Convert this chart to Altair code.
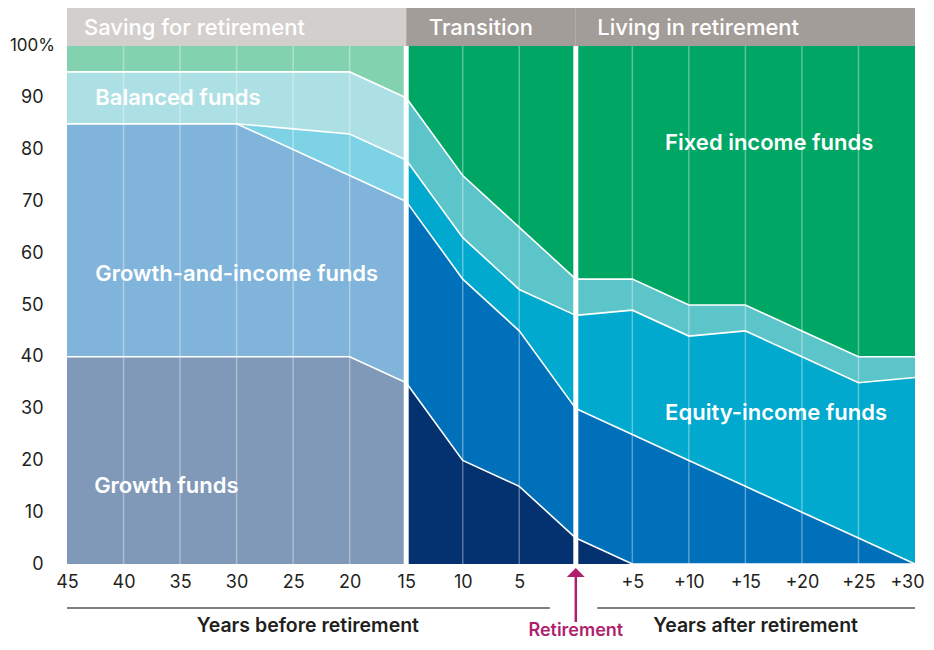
import altair as alt
import pandas as pd

# ---------------- data (cumulative top of each layer, in %) ----------------
layer_names = ["Growth", "Growth-and-income", "Equity-income", "Balanced", "Fixed income"]

# Saving for retirement (years before retirement shown as negative x)
saving_x = [-45, -40, -35, -30, -25, -20, -15]
saving_growth = [40, 40, 40, 40, 40, 40, 35]
saving_growth_income = [85, 85, 85, 85, 80, 75, 70]
saving_equity_income = [85, 85, 85, 85, 84, 83, 78]
saving_balanced = [95, 95, 95, 95, 95, 95, 90]
saving_fixed = [100, 100, 100, 100, 100, 100, 100]

# Transition
transition_x = [-15, -10, -5, 0]
transition_growth = [35, 20, 15, 5]
transition_growth_income = [70, 55, 45, 30]
transition_equity_income = [78, 63, 53, 48]
transition_balanced = [90, 75, 65, 55]
transition_fixed = [100, 100, 100, 100]

# Living in retirement
living_x = [0, 5, 10, 15, 20, 25, 30]
living_growth = [5, 0, 0, 0, 0, 0, 0]
living_growth_income = [30, 25, 20, 15, 10, 5, 0]
living_equity_income = [48, 49, 44, 45, 40, 35, 36]
living_balanced = [55, 55, 50, 50, 45, 40, 40]
living_fixed = [100, 100, 100, 100, 100, 100, 100]

saving_colors = ["#8199b8", "#80b4da", "#7dd3e5", "#ade0e5", "#82d2b0"]
later_colors = ["#04316f", "#0070ba", "#00a9cd", "#5cc5c9", "#00a664"]

x_tick_values = [-45, -40, -35, -30, -25, -20, -15, -10, -5, 5, 10, 15, 20, 25, 30]
y_tick_values = [0, 10, 20, 30, 40, 50, 60, 70, 80, 90]
grid_years = [-40, -35, -30, -25, -20, -10, -5, 5, 10, 15, 20, 25]
separator_years = [-15, 0]

header_names = ["Saving for retirement", "Transition", "Living in retirement"]
header_start = [-45, -15, 0]
header_end = [-15, 0, 30]
header_colors = ["#d3cfcc", "#a39d99", "#a39d99"]
header_text_x = [-43.5, -13.0, 1.9]

area_label_text = ["Balanced funds", "Growth-and-income funds", "Growth funds",
                   "Fixed income funds", "Equity-income funds"]
area_label_x = [-42.5, -42.5, -42.6, 7.9, 7.9]
area_label_y = [90.0, 56.0, 15.1, 81.3, 29.2]

FONT = "Inter"
TEXT_COLOR = "#231f20"
MAGENTA = "#b01f6d"
W, H = 848, 518

# ---------------- build tables ----------------
sections = [
    ("saving", saving_x, [saving_growth, saving_growth_income, saving_equity_income, saving_balanced, saving_fixed], saving_colors),
    ("transition", transition_x, [transition_growth, transition_growth_income, transition_equity_income, transition_balanced, transition_fixed], later_colors),
    ("living", living_x, [living_growth, living_growth_income, living_equity_income, living_balanced, living_fixed], later_colors),
]
rows = []
key_domain, key_range = [], []
for name, xs, tops, colors in sections:
    lower = [0] * len(xs)
    for i, top in enumerate(tops):
        key = f"{name}-{layer_names[i]}"
        key_domain.append(key)
        key_range.append(colors[i])
        for j, xv in enumerate(xs):
            rows.append({"key": key, "x": xv, "y0": lower[j], "y1": top[j],
                         "boundary": i < len(tops) - 1})
        lower = top
df = pd.DataFrame(rows)

xscale = alt.Scale(domain=[-45, 30], nice=False, zero=False)
yscale = alt.Scale(domain=[0, 100], nice=False, zero=False)
x_axis = alt.Axis(
    values=x_tick_values,
    labelExpr="datum.value < 0 ? '' + (-datum.value) : '+' + datum.value",
    labelOffset={"condition": {"test": "datum.value == 30", "value": -8}, "value": 0},
    grid=False, domain=False, ticks=False, labelPadding=9, labelFontSize=18,
    labelFont=FONT, labelColor=TEXT_COLOR, title=None, labelFlush=False)
y_axis = alt.Axis(
    values=y_tick_values, grid=False, domain=False, ticks=False, labelPadding=24,
    labelFontSize=18, labelFont=FONT, labelColor=TEXT_COLOR, title=None)


def X(field):
    return alt.X(field, scale=xscale, axis=x_axis)


def Y(field):
    return alt.Y(field, scale=yscale, axis=y_axis)


areas = alt.Chart(df).mark_area(interpolate="linear").encode(
    x=X("x:Q"),
    y=Y("y1:Q"),
    y2="y0:Q",
    color=alt.Color("key:N", scale=alt.Scale(domain=key_domain, range=key_range), legend=None),
    detail="key:N",
)

grid_df = pd.DataFrame({"x": grid_years})
grid = alt.Chart(grid_df).mark_rule(color="white", strokeWidth=1.5, opacity=0.35).encode(
    x=X("x:Q"), y=alt.value(0), y2=alt.value(H),
)

lines = alt.Chart(df[df["boundary"]]).mark_line(color="white", strokeWidth=1.6).encode(
    x=X("x:Q"), y=Y("y1:Q"), detail="key:N", order="x:Q",
)

header_df = pd.DataFrame({"name": header_names, "x": header_start, "x2": header_end,
                          "color": header_colors, "tx": header_text_x})
headers = alt.Chart(header_df).mark_rect().encode(
    x=X("x:Q"), x2="x2:Q",
    y=alt.value(-38), y2=alt.value(0),
    color=alt.Color("color:N", scale=None),
)
header_text = alt.Chart(header_df).mark_text(
    align="left", baseline="middle", font=FONT, fontSize=22, fontWeight=500, color="white"
).encode(
    x=X("tx:Q"), y=alt.value(-18), text="name:N",
)

sep_df = pd.DataFrame({"x": separator_years})
separators = alt.Chart(sep_df).mark_rule(color="white", strokeWidth=5).encode(
    x=X("x:Q"), y=alt.value(-38), y2=alt.value(H),
)

label_df = pd.DataFrame({"text": area_label_text, "x": area_label_x, "y": area_label_y})
area_labels = alt.Chart(label_df).mark_text(
    align="left", baseline="middle", font=FONT, fontSize=22, fontWeight=600, color="white"
).encode(
    x=X("x:Q"), y=Y("y:Q"), text="text:N",
)

pct_df = pd.DataFrame({"text": ["100%"], "y": [100]})
pct = alt.Chart(pct_df).mark_text(
    align="right", baseline="middle", font=FONT, fontSize=17, color=TEXT_COLOR
).encode(
    x=alt.value(-12), y=Y("y:Q"), text="text:N",
)

# bottom annotations
period_names = ["Years before retirement", "Years after retirement"]
period_start = [-45, 1.9]
period_end = [-2.3, 30]
period_center = [-23.7, 15.9]
period_df = pd.DataFrame({"name": period_names, "x": period_start, "x2": period_end,
                          "cx": period_center})
period_rules = alt.Chart(period_df).mark_rule(color="#555555", strokeWidth=1.5).encode(
    x=X("x:Q"), x2="x2:Q", y=alt.value(562),
)
period_text = alt.Chart(period_df).mark_text(
    align="center", baseline="middle", font=FONT, fontSize=19.5, fontWeight=600, color=TEXT_COLOR
).encode(
    x=X("cx:Q"), y=alt.value(580), text="name:N",
)

ret_df = pd.DataFrame({"x": [0], "text": ["Retirement"]})
ret_line = alt.Chart(ret_df).mark_rule(color=MAGENTA, strokeWidth=2.5).encode(
    x=X("x:Q"), y=alt.value(530), y2=alt.value(576),
)
ret_head = alt.Chart(ret_df).mark_point(
    shape="M -1 0.5 L 0 -0.5 L 1 0.5 Z", size=320, filled=True, color=MAGENTA, opacity=1
).encode(
    x=X("x:Q"), y=alt.value(526.5),
)
ret_text = alt.Chart(ret_df).mark_text(
    align="center", baseline="middle", font=FONT, fontSize=18, fontWeight=600, color=MAGENTA
).encode(
    x=X("x:Q"), y=alt.value(585), text="text:N",
)

chart = alt.layer(
    areas, grid, lines, separators, headers, header_text, area_labels, pct,
    period_rules, period_text, ret_line, ret_head, ret_text,
).properties(
    width=W, height=H,
    autosize=alt.AutoSizeParams(type="none"),
    padding={"left": 59, "top": 38, "right": 11, "bottom": 78},
).configure_view(stroke=None)

chart.save("out.html", embed_options={"renderer": "svg", "actions": False})
